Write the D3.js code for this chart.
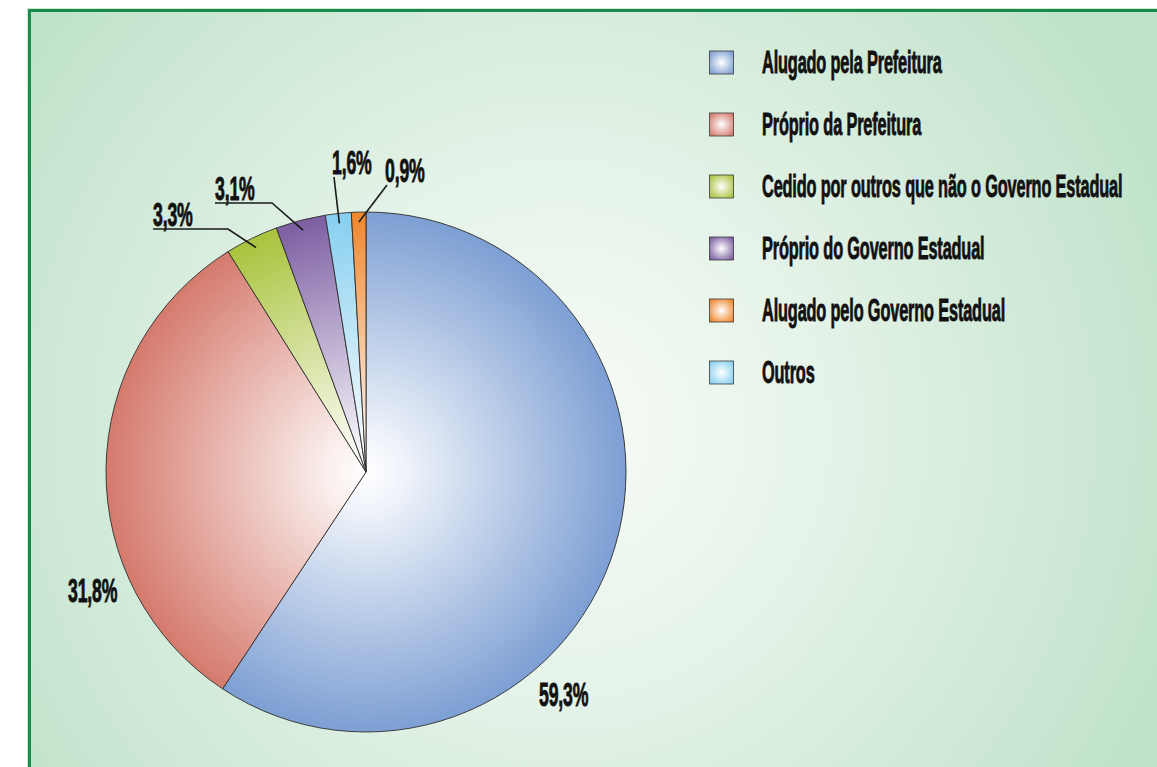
<!DOCTYPE html>
<html>
<head>
<meta charset="utf-8">
<script src="https://cdn.jsdelivr.net/npm/d3@7"></script>
<style>
  html, body { margin: 0; padding: 0; background: #ffffff; }
  svg { display: block; }
  text { font-family: "Liberation Sans", Arial, sans-serif; font-weight: bold; fill: #111; stroke: #111; stroke-width: 0.9px; letter-spacing: -0.3px; }
</style>
</head>
<body>
<svg id="chart" width="1157" height="767"></svg>
<script>
// ---------- data ----------
const categories = [
  "Alugado pela Prefeitura",
  "Próprio da Prefeitura",
  "Cedido por outros que não o Governo Estadual",
  "Próprio do Governo Estadual",
  "Alugado pelo Governo Estadual",
  "Outros"
];
const values = [59.3, 31.8, 3.3, 3.1, 0.9, 1.6];
const valueLabels = ["59,3%", "31,8%", "3,3%", "3,1%", "0,9%", "1,6%"];
const colors = ["#7d9fd3", "#d57a6d", "#a9c33c", "#7c5ea2", "#f0862c", "#86cff0"];
// order of slices clockwise from 12 o'clock (indices into the arrays above)
const sliceOrder = [0, 1, 2, 3, 5, 4];

// ---------- layout ----------
const W = 1157, H = 767;
const cx = 366, cy = 472, R = 260;
const sxLeg = 0.51, fsLeg = 32;   // legend font
const sxLab = 0.52, fsLab = 34;   // value label font
// label placement relative to pie centre (x = text start, y = baseline), elbow x for underlined leaders
const labelLayout = {
  0: { x: 173, y: 234 },
  1: { x: -298, y: 130 },
  2: { x: -213, y: -246, elbow: -138, underline: true },
  3: { x: -151, y: -272, elbow: -94, underline: true },
  5: { x: -34, y: -298, leader: true },
  4: { x: 19, y: -290, leader: true }
};

const svg = d3.select("#chart");
const defs = svg.append("defs");

// background gradient
const bg = defs.append("radialGradient").attr("id", "bg")
  .attr("gradientUnits", "userSpaceOnUse")
  .attr("cx", 560).attr("cy", 430).attr("r", 660);
bg.append("stop").attr("offset", 0).attr("stop-color", "#f8fcf8");
bg.append("stop").attr("offset", 0.4).attr("stop-color", "#e5f3e8");
bg.append("stop").attr("offset", 1).attr("stop-color", "#bfe2ca");

svg.append("rect").attr("x", 27).attr("y", 8).attr("width", W).attr("height", H)
  .attr("fill", "#cfe9d8");
svg.append("rect").attr("x", 29.5).attr("y", 10.5).attr("width", W).attr("height", H)
  .attr("fill", "url(#bg)").attr("stroke", "#1a8b4b").attr("stroke-width", 3);

// slice gradients (in the pie group's coordinate system, centre at 0,0)
colors.forEach((c, i) => {
  const g = defs.append("radialGradient").attr("id", "sg" + i)
    .attr("gradientUnits", "userSpaceOnUse")
    .attr("cx", 0).attr("cy", 0).attr("r", R);
  g.append("stop").attr("offset", 0).attr("stop-color", "#ffffff");
  g.append("stop").attr("offset", 0.15).attr("stop-color", d3.interpolateRgb("#ffffff", c)(0.12));
  g.append("stop").attr("offset", 1).attr("stop-color", c);
  const s = defs.append("radialGradient").attr("id", "lg" + i)
    .attr("cx", "50%").attr("cy", "50%").attr("r", "62%");
  s.append("stop").attr("offset", 0).attr("stop-color", "#ffffff");
  s.append("stop").attr("offset", 1).attr("stop-color", c);
});

// pie
const pieData = sliceOrder.map(i => ({ i, v: values[i] }));
const pie = d3.pie().value(d => d.v).sort(null);
const arcs = pie(pieData);
const arc = d3.arc().innerRadius(0).outerRadius(R);

const gPie = svg.append("g").attr("transform", `translate(${cx},${cy})`);
gPie.selectAll("path").data(arcs).join("path")
  .attr("d", arc)
  .attr("fill", d => `url(#sg${d.data.i})`)
  .attr("stroke", "#2e2e2e")
  .attr("stroke-width", 0.9)
  .attr("stroke-linejoin", "round");

// labels
const gLab = gPie.append("g");
arcs.forEach(a => {
  const i = a.data.i;
  const L = labelLayout[i];
  const g = gLab.append("g").attr("transform", `translate(${L.x},${L.y}) scale(${sxLab},1)`);
  g.append("text").attr("x", 0).attr("y", 0).attr("font-size", fsLab).text(valueLabels[i]);
  const mid = (a.startAngle + a.endAngle) / 2;
  const rr = R - 10;
  const ex = rr * Math.sin(mid), ey = -rr * Math.cos(mid);
  if (L.underline) {
    gLab.append("path")
      .attr("d", `M${L.x},${L.y + 3}H${L.elbow}L${ex},${ey}`)
      .attr("fill", "none").attr("stroke", "#1a1a1a").attr("stroke-width", 1.6);
  } else if (L.leader) {
    gLab.append("path")
      .attr("d", `M${L.x + 2},${L.y + 3}L${ex},${ey}`)
      .attr("fill", "none").attr("stroke", "#1a1a1a").attr("stroke-width", 1.6);
  }
});

// legend
const legY = d3.scalePoint().domain(d3.range(categories.length)).range([62.5, 372.5]);
const gLeg = svg.append("g");
categories.forEach((c, i) => {
  const y = legY(i);
  gLeg.append("rect").attr("x", 709.5).attr("y", y - 11.5).attr("width", 24).attr("height", 23)
    .attr("fill", `url(#lg${i})`).attr("stroke", "#3a3a3a").attr("stroke-width", 0.8);
  gLeg.append("g").attr("transform", `translate(762,${y + 10}) scale(${sxLeg},1)`)
    .append("text").attr("font-size", fsLeg).text(c);
});
</script>
</body>
</html>
